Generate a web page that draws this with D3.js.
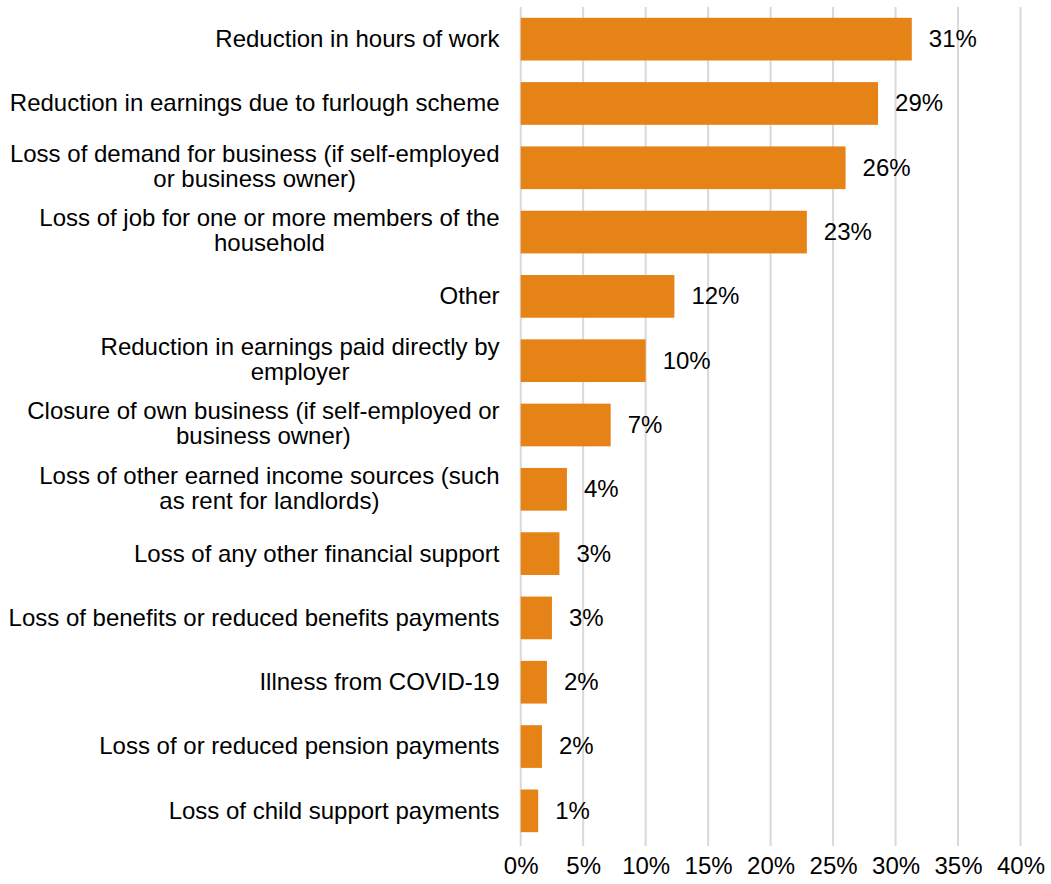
<!DOCTYPE html>
<html>
<head>
<meta charset="utf-8">
<script src="https://cdn.jsdelivr.net/npm/d3@7"></script>
<style>
  html, body { margin: 0; padding: 0; background: #fff; }
  svg { display: block; }
  text { font-family: "Liberation Sans", Arial, sans-serif; fill: #000; }
</style>
</head>
<body>
<svg id="chart" width="1051" height="884"></svg>
<script>
// Categories (line breaks as wrapped in the original)
const categories = [
  "Reduction in hours of work",
  "Reduction in earnings due to furlough scheme",
  "Loss of demand for business (if self-employed\nor business owner)",
  "Loss of job for one or more members of the\nhousehold",
  "Other",
  "Reduction in earnings paid directly by\nemployer",
  "Closure of own business (if self-employed or\nbusiness owner)",
  "Loss of other earned income sources (such\nas rent for landlords)",
  "Loss of any other financial support",
  "Loss of benefits or reduced benefits payments",
  "Illness from COVID-19",
  "Loss of or reduced pension payments",
  "Loss of child support payments"
];
const values = [31.3, 28.6, 26.0, 22.9, 12.3, 10.0, 7.2, 3.7, 3.1, 2.5, 2.1, 1.7, 1.4];
const valueLabels = ["31%", "29%", "26%", "23%", "12%", "10%", "7%", "4%", "3%", "3%", "2%", "2%", "1%"];
const tickValues = [0, 5, 10, 15, 20, 25, 30, 35, 40];

const svg = d3.select("#chart");
const FS = 24;
const barColor = "#E68316";

const x = d3.scaleLinear().domain([0, 40]).range([520.7, 1020.5]);
const y = d3.scaleBand().domain(categories).range([7, 843]).paddingInner(0.336).paddingOuter(0.168);

// gridlines
svg.append("g").selectAll("line").data(tickValues).join("line")
  .attr("x1", d => x(d)).attr("x2", d => x(d))
  .attr("y1", 7).attr("y2", 846)
  .attr("stroke", "#d9d9d9").attr("stroke-width", 2);

// x axis tick labels
const xAxis = d3.axisBottom(x).tickValues(tickValues).tickFormat(d => d + "%").tickSize(0).tickPadding(0);
const gx = svg.append("g").attr("transform", "translate(0,874)").call(xAxis);
gx.select(".domain").remove();
gx.selectAll("text").attr("dy", null).attr("y", 0)
  .style("font-size", FS + "px").style("font-family", '"Liberation Sans", Arial, sans-serif').attr("fill", "#000");

// bars
svg.append("g").selectAll("rect").data(categories).join("rect")
  .attr("x", x(0))
  .attr("y", d => y(d))
  .attr("width", (d, i) => x(values[i]) - x(0))
  .attr("height", y.bandwidth())
  .attr("fill", barColor);

// value labels
svg.append("g").selectAll("text").data(categories).join("text")
  .attr("x", (d, i) => x(values[i]) + 17)
  .attr("y", d => y(d) + y.bandwidth() / 2)
  .attr("dy", "0.33em")
  .style("font-size", FS + "px")
  .text((d, i) => valueLabels[i]);

// category labels: block right-aligned at 500, lines centered within block
const lineH = 25;
const labelRight = 499.5;
const lg = svg.append("g");
categories.forEach(cat => {
  const lines = cat.split("\n");
  const cy = y(cat) + y.bandwidth() / 2;
  const t = lg.append("text").style("font-size", FS + "px");
  const n = lines.length;
  const spans = lines.map((ln, k) => t.append("tspan")
    .attr("y", cy + (k - (n - 1) / 2) * lineH - (n > 1 ? 1 : 0))
    .attr("dy", "0.33em")
    .text(ln));
  if (n === 1) {
    t.attr("text-anchor", "end");
    spans[0].attr("x", labelRight);
  } else {
    const widths = spans.map(s => s.node().getComputedTextLength());
    const maxW = d3.max(widths);
    const cx = labelRight - maxW / 2;
    t.attr("text-anchor", "middle");
    spans.forEach(s => s.attr("x", cx));
  }
});
</script>
</body>
</html>
